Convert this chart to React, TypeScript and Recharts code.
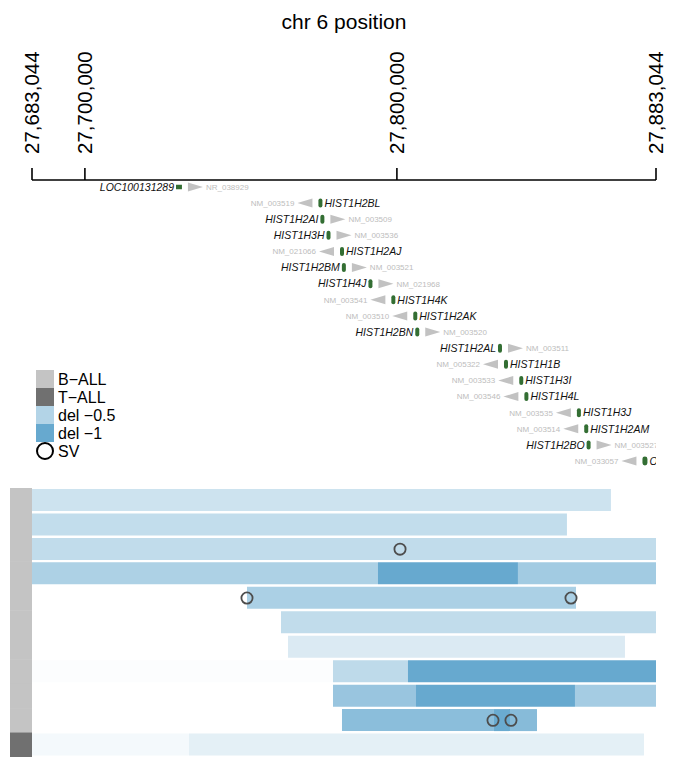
import React from 'react';
import {
  ScatterChart,
  ComposedChart,
  Scatter,
  Bar,
  Cell,
  XAxis,
  YAxis,
  Legend,
} from 'recharts';

const FONT = '"Liberation Sans", Arial, Helvetica, sans-serif';

// window on chr 6
const CHR_START = 27683044;
const CHR_END = 27883044;
const axisTicks = [27683044, 27700000, 27800000, 27883044];
const axisTitle = 'chr 6 position';

// gene track, one gene per line
const geneNames = [
  'LOC100131289', 'HIST1H2BL', 'HIST1H2AI', 'HIST1H3H', 'HIST1H2AJ', 'HIST1H2BM',
  'HIST1H4J', 'HIST1H4K', 'HIST1H2AK', 'HIST1H2BN', 'HIST1H2AL', 'HIST1H1B',
  'HIST1H3I', 'HIST1H4L', 'HIST1H3J', 'HIST1H2AM', 'HIST1H2BO', 'OR2B2',
];
const geneAccessions = [
  'NR_038929', 'NM_003519', 'NM_003509', 'NM_003536', 'NM_021066', 'NM_003521',
  'NM_021968', 'NM_003541', 'NM_003510', 'NM_003520', 'NM_003511', 'NM_005322',
  'NM_003533', 'NM_003546', 'NM_003535', 'NM_003514', 'NM_003527', 'NM_033057',
];
const geneStrands = ['+', '-', '+', '+', '-', '+', '+', '-', '-', '+', '+', '-', '-', '-', '-', '-', '+', '-'];
const geneCoding = [false, true, true, true, true, true, true, true, true, true, true, true, true, true, true, true, true, true];
const geneStarts = [
  27729200, 27775259, 27775899, 27777842, 27782165, 27782775, 27791325, 27798655, 27805656,
  27806281, 27832830, 27834570, 27839622, 27841290, 27858093, 27860477, 27861203, 27878700,
];
const geneEnds = [
  27731100, 27775709, 27776330, 27778314, 27782643, 27783228, 27791706, 27799066, 27806121,
  27806780, 27833250, 27835359, 27840099, 27841711, 27858570, 27860890, 27861669, 27880300,
];

// copy number segments per sample (breakpoints + log ratio of each piece)
const sampleRows = ['s1', 's2', 's3', 's4', 's5', 's6', 's7', 's8', 's9', 's10', 's11'];
const sampleGroups = ['B-ALL', 'B-ALL', 'B-ALL', 'B-ALL', 'B-ALL', 'B-ALL', 'B-ALL', 'B-ALL', 'B-ALL', 'B-ALL', 'T-ALL'];
const segBreaks: number[][] = [
  [CHR_START, 27868600],
  [CHR_START, 27854500],
  [CHR_START, CHR_END],
  [CHR_START, 27793940, 27838800, CHR_END],
  [27751950, 27857400],
  [27762850, CHR_END],
  [27765090, 27873100],
  [CHR_START, 27779515, 27803550, CHR_END],
  [27779515, 27806116, 27857076, CHR_END],
  [27782400, 27831115, 27836243, 27844897],
  [CHR_START, 27733360, 27879190],
];
const segValues: number[][] = [
  [-0.33],
  [-0.4],
  [-0.41],
  [-0.54, -1, -0.61],
  [-0.55],
  [-0.41],
  [-0.24],
  [-0.02, -0.43, -1],
  [-0.67, -1, -0.59],
  [-0.76, -0.98, -0.79],
  [-0.07, -0.18],
];

// structural variant breakpoints
const svRows = ['s3', 's5', 's5', 's10', 's10'];
const svPositions = [27801000, 27751950, 27855800, 27830800, 27836560];

const groupNames = ['B-ALL', 'T-ALL'];
const legendLabels = ['B−ALL', 'T−ALL', 'del −0.5', 'del −1', 'SV'];
const legendDelValues = [-0.5, -1];

const GROUP_FILL: Record<string, string> = { 'B-ALL': '#c4c4c4', 'T-ALL': '#707070' };
const DEL_FULL = [103, 169, 207];
const GENE_GREEN = '#336e33';

const W = 682;
const TOP_H = 470;
const BOT_TOP = 488;
const BOT_H = 269;
const PLOT_L = 32;
const PLOT_R = 26;
const STRIP_X = 10;
const STRIP_W = 22;
const BAND = BOT_H / sampleRows.length;
const PX_PER_BP = (W - PLOT_L - PLOT_R) / (CHR_END - CHR_START);

function delColor(v: number) {
  const t = Math.min(1, Math.abs(v));
  const c = DEL_FULL.map((ch) => Math.round(255 + (ch - 255) * t));
  return `rgb(${c.join(',')})`;
}

const geneTable = geneNames.map((name, i) => ({
  name,
  acc: geneAccessions[i],
  strand: geneStrands[i],
  coding: geneCoding[i],
  start: geneStarts[i],
  end: geneEnds[i],
  pos: (geneStarts[i] + geneEnds[i]) / 2,
  row: i,
}));

const MAX_SEGS = 3;
const segTable = sampleRows.map((row, i) => {
  const b = segBreaks[i];
  const entry: any = { row, lead: b[0] };
  for (let k = 0; k < MAX_SEGS; k++) {
    entry[`seg${k}`] = k < b.length - 1 ? b[k + 1] - b[k] : 0;
  }
  return entry;
});

const svTable = svRows.map((row, i) => ({ row, pos: svPositions[i] }));

const renderAxisTick = (props: any) => {
  const { x, y, payload } = props;
  return (
    <text
      x={x}
      y={y}
      transform={`rotate(-90 ${x} ${y})`}
      textAnchor="start"
      dy="0.36em"
      fontSize={20.5}
      fill="#000"
    >
      {Number(payload.value).toLocaleString('en-US')}
    </text>
  );
};

const renderGene = (props: any) => {
  const { cx, cy, payload } = props;
  if (cx == null || cy == null) return <g />;
  const w = Math.max(4, (payload.end - payload.start) * PX_PER_BP);
  const h = payload.coding ? 9 : 4.5;
  const plus = payload.strand === '+';
  const half = w / 2;
  const base = plus ? cx + half + 6 : cx - half - 6;
  const tip = plus ? base + 15 : base - 15;
  return (
    <g>
      <rect x={cx - half} y={cy - h / 2} width={w} height={h} rx={payload.coding ? w / 2 : 0} fill={GENE_GREEN} />
      <polygon points={`${base},${cy - 4.5} ${tip},${cy} ${base},${cy + 4.5}`} fill="#c2c2c2" />
      <text
        x={plus ? cx - half - 2 : cx + half + 2}
        y={cy}
        dy="0.36em"
        textAnchor={plus ? 'end' : 'start'}
        fontSize={10.5}
        fontStyle="italic"
        fill="#111"
      >
        {payload.name}
      </text>
      <text
        x={plus ? tip + 3 : tip - 3}
        y={cy}
        dy="0.36em"
        textAnchor={plus ? 'start' : 'end'}
        fontSize={8}
        fill="#bdbdbd"
      >
        {payload.acc}
      </text>
    </g>
  );
};

const renderLegend = () => (
  <svg width={110} height={92} style={{ display: 'block', overflow: 'visible' }}>
    {legendLabels.map((label, i) => {
      const y = i * 18;
      const swatch = i < 2 ? GROUP_FILL[groupNames[i]] : i < 4 ? delColor(legendDelValues[i - 2]) : null;
      return (
        <g key={label}>
          {swatch ? (
            <rect x={0} y={y} width={18} height={18} fill={swatch} />
          ) : (
            <circle cx={9} cy={y + 9} r={8} fill="none" stroke="#000" strokeWidth={2} />
          )}
          <text x={22} y={y + 9} dy="0.36em" fontSize={16} fill="#000">
            {label}
          </text>
        </g>
      );
    })}
  </svg>
);

const renderStrip = (props: any) => {
  const i = sampleRows.indexOf(props.payload.value);
  return (
    <rect
      x={STRIP_X}
      y={props.y - BAND / 2}
      width={STRIP_W}
      height={BAND + 0.5}
      fill={GROUP_FILL[sampleGroups[i]]}
    />
  );
};

const renderSv = (props: any) => (
  <circle cx={props.cx} cy={props.cy} r={5.6} fill="none" stroke="#4d4d4d" strokeWidth={1.8} />
);

export default function App() {
  return (
    <div style={{ position: 'absolute', left: 0, top: 0, width: W, height: 757, fontFamily: FONT, background: '#fff' }}>
      <div style={{ position: 'absolute', left: 0, top: 0 }}>
        <ScatterChart width={W} height={TOP_H} margin={{ top: 0, right: PLOT_R, bottom: 0, left: PLOT_L }}>
          <XAxis
            type="number"
            dataKey="pos"
            orientation="top"
            height={180}
            domain={[CHR_START, CHR_END]}
            ticks={axisTicks}
            allowDataOverflow
            interval={0}
            tickSize={12}
            tickMargin={14}
            axisLine={{ stroke: '#000', strokeWidth: 1.6 }}
            tickLine={{ stroke: '#000', strokeWidth: 1.6 }}
            tick={renderAxisTick}
            label={{ value: axisTitle, position: 'insideTop', offset: 14, fontSize: 21, fill: '#000' }}
          />
          <YAxis
            type="number"
            dataKey="row"
            hide
            reversed
            domain={[0, geneNames.length - 1]}
            padding={{ top: 7, bottom: 9 }}
          />
          <Legend
            content={renderLegend}
            layout="horizontal"
            verticalAlign="middle"
            align="center"
            wrapperStyle={{ left: 36, top: 370, width: 110, height: 92 }}
          />
          <Scatter data={geneTable} shape={renderGene} isAnimationActive={false} />
        </ScatterChart>
      </div>
      <div style={{ position: 'absolute', left: 0, top: BOT_TOP }}>
        <ComposedChart
          layout="vertical"
          width={W}
          height={BOT_H}
          data={segTable}
          margin={{ top: 0, right: PLOT_R, bottom: 0, left: STRIP_X }}
          barSize={22}
        >
          <XAxis type="number" domain={[CHR_START, CHR_END]} allowDataOverflow hide />
          <YAxis
            type="category"
            dataKey="row"
            width={STRIP_W}
            axisLine={false}
            tickLine={false}
            interval={0}
            allowDuplicatedCategory={false}
            tick={renderStrip}
          />
          <Bar dataKey="lead" stackId="cn" fill="none" isAnimationActive={false} />
          {[0, 1, 2].map((k) => (
            <Bar key={k} dataKey={`seg${k}`} stackId="cn" isAnimationActive={false}>
              {segTable.map((_, i) => (
                <Cell key={i} fill={segValues[i][k] != null ? delColor(segValues[i][k]) : 'none'} />
              ))}
            </Bar>
          ))}
          <Scatter data={svTable} dataKey="pos" shape={renderSv} isAnimationActive={false} />
        </ComposedChart>
      </div>
    </div>
  );
}
